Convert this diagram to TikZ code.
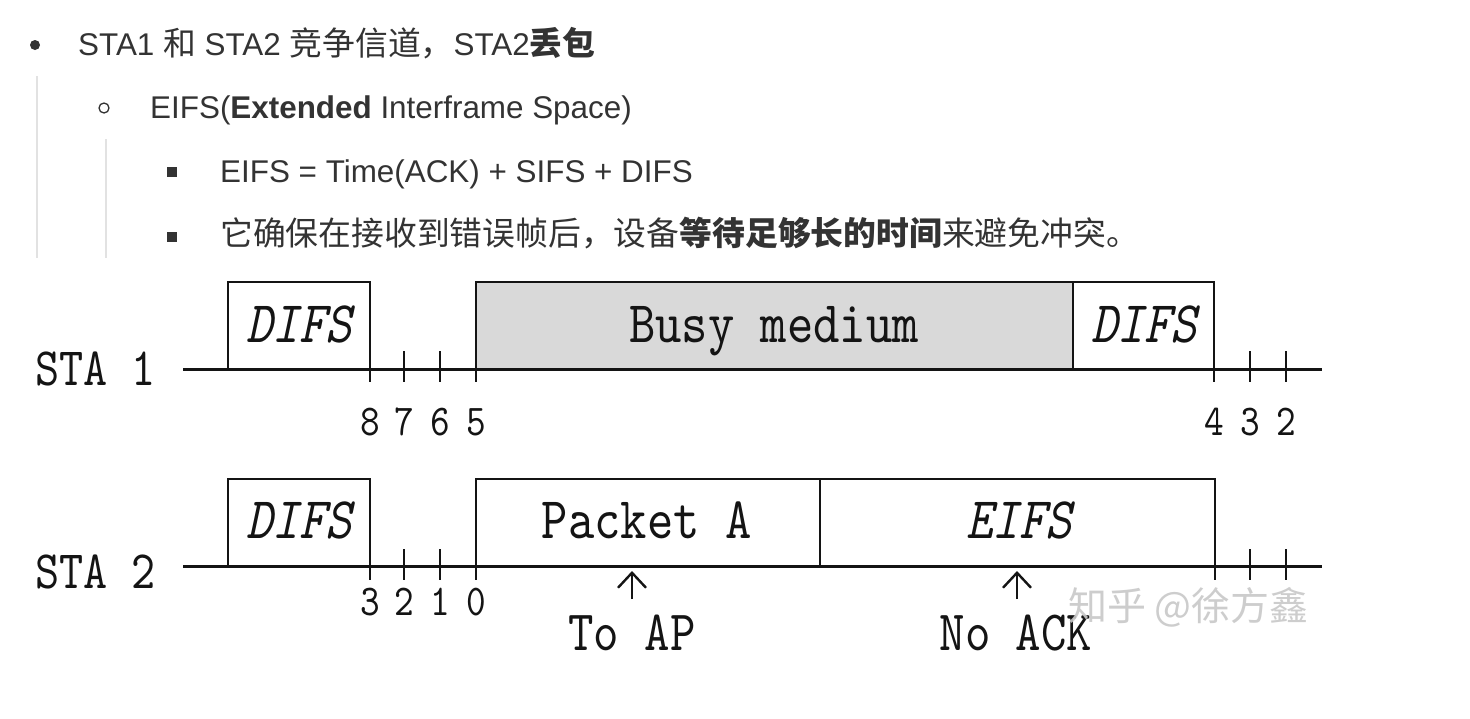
\documentclass[tikz,border=0pt]{standalone}
\usepackage{fontspec}
\setmainfont{Liberation Sans}
\newfontfamily\cjk{Noto Sans CJK SC}[Scale=1.045]
\newfontfamily\wmf{Noto Sans CJK SC}
\newfontfamily\dgf{lmmono10-regular}[Extension=.otf, ItalicFont=lmmono10-italic, FakeStretch=0.85]
\usetikzlibrary{arrows.meta}
\definecolor{txt}{HTML}{333333}
\definecolor{rulec}{HTML}{E2E2E2}
\definecolor{busy}{HTML}{D9D9D9}
\definecolor{ink}{HTML}{141414}
\definecolor{wm}{HTML}{C8C8C8}
\tikzset{
  line/.style={txt, font=\fontsize{31.4}{37}\selectfont, anchor=base west, inner sep=0pt},
  axis/.style={ink, line width=3pt},
  frame/.style={ink, line width=2.6pt},
  tick/.style={ink, line width=2.6pt},
  stalab/.style={ink, font=\dgf\fontsize{54}{60}\selectfont, anchor=base west, inner sep=0pt},
  boxlab/.style={ink, font=\dgf\fontsize{59}{64}\selectfont, anchor=base, inner sep=0pt},
  itlab/.style={ink, font=\dgf\itshape\fontsize{59}{64}\selectfont, anchor=base, inner sep=0pt},
  num/.style={ink, font=\dgf\fontsize{44}{50}\selectfont, anchor=base, inner sep=0pt},
  note/.style={ink, font=\dgf\fontsize{57}{62}\selectfont, anchor=base, inner sep=0pt},
  uparrow/.style={ink, line width=2.4pt, -{Straight Barb[length=15pt,width=28pt,line width=2.4pt]}},
}
\begin{document}
\begin{tikzpicture}[x=1pt,y=-1pt]
\useasboundingbox[fill=white] (0,0) rectangle (1470,718);

% ---------- bullet list ----------
\draw[rulec, line width=1.5pt] (37,76) -- (37,258);
\draw[rulec, line width=1.5pt] (106,139) -- (106,258);
\fill[txt] (35,45) circle (5);
\draw[txt, line width=1.3pt] (104,108) circle (5);
\fill[txt] (167,167) rectangle (177,177);
\fill[txt] (167,232) rectangle (177,242);

\node[line] (l1) at (78,55) {STA1 {\cjk 和} STA2 {\cjk 竞争信道，}STA2{\cjk\bfseries 丢包}};
\node[line] (l2) at (150,118) {EIFS(\textbf{Extended} Interframe Space)};
\node[line] (l3) at (220,182) {EIFS = Time(ACK) + SIFS + DIFS};
\node[line] (l4) at (220,245) {\cjk 它确保在接收到错误帧后，设备\textbf{等待足够长的时间}来避免冲突。};

% ---------- STA 1 ----------
\node[stalab] (sta1) at (35,385) {STA 1};
\coordinate (a1s) at (183,369);
\coordinate (a1e) at (1322,369);
\draw[axis] (a1s) -- (a1e);
\draw[frame] (228,369) -- (228,282) -- (370,282) -- (370,369);
\draw[frame, fill=busy] (476,369) rectangle (1073,282);
\draw[frame] (1073,282) -- (1214,282) -- (1214,369);
\node[itlab] (d1) at (299,342) {DIFS};
\node[boxlab] (busyl) at (774,342) {Busy medium};
\node[itlab] (d1b) at (1144,342) {DIFS};
\foreach \x in {370,476,1214} \draw[tick] (\x,369) -- (\x,382);
\foreach \x in {404,440,1250,1286} \draw[tick] (\x,351) -- (\x,382);
\node[num] (n8) at (370,435) {8};
\node[num] (n7) at (404,435) {7};
\node[num] (n6) at (440,435) {6};
\node[num] (n5) at (476,435) {5};
\node[num] (n4) at (1214,435) {4};
\node[num] (n3) at (1250,435) {3};
\node[num] (n2) at (1286,435) {2};

% ---------- STA 2 ----------
\node[stalab] (sta2) at (35,588) {STA 2};
\coordinate (a2s) at (183,566);
\coordinate (a2e) at (1322,566);
\draw[axis] (a2s) -- (a2e);
\draw[frame] (228,566) -- (228,479) -- (370,479) -- (370,566);
\draw[frame] (476,566) -- (476,479) -- (1215,479) -- (1215,566);
\draw[frame] (820,479) -- (820,566);
\node[itlab] (d2) at (299,538) {DIFS};
\node[boxlab] (pka) at (647,538) {Packet A};
\node[itlab] (eifs) at (1019,538) {EIFS};
\foreach \x in {370,476,1215} \draw[tick] (\x,566) -- (\x,580);
\foreach \x in {404,440,1250,1286} \draw[tick] (\x,549) -- (\x,580);
\node[num] (m3) at (370,615) {3};
\node[num] (m2) at (404,615) {2};
\node[num] (m1) at (440,615) {1};
\node[num] (m0) at (476,615) {0};

\coordinate (toapb) at (632,599);
\coordinate (toapt) at (632,571);
\draw[uparrow] (toapb) -- (toapt);
\node[note] (toap) at (632,650) {To AP};
\coordinate (noackb) at (1017,599);
\coordinate (noackt) at (1017,571);
\draw[uparrow] (noackb) -- (noackt);
\node[note] (noack) at (1016,650) {No ACK};

\node[wm, font=\wmf\fontsize{39}{44}\selectfont, anchor=base west, inner sep=0pt, opacity=0.9] (wmk) at (1068,620) {知乎 @徐方鑫};
\end{tikzpicture}
\end{document}
